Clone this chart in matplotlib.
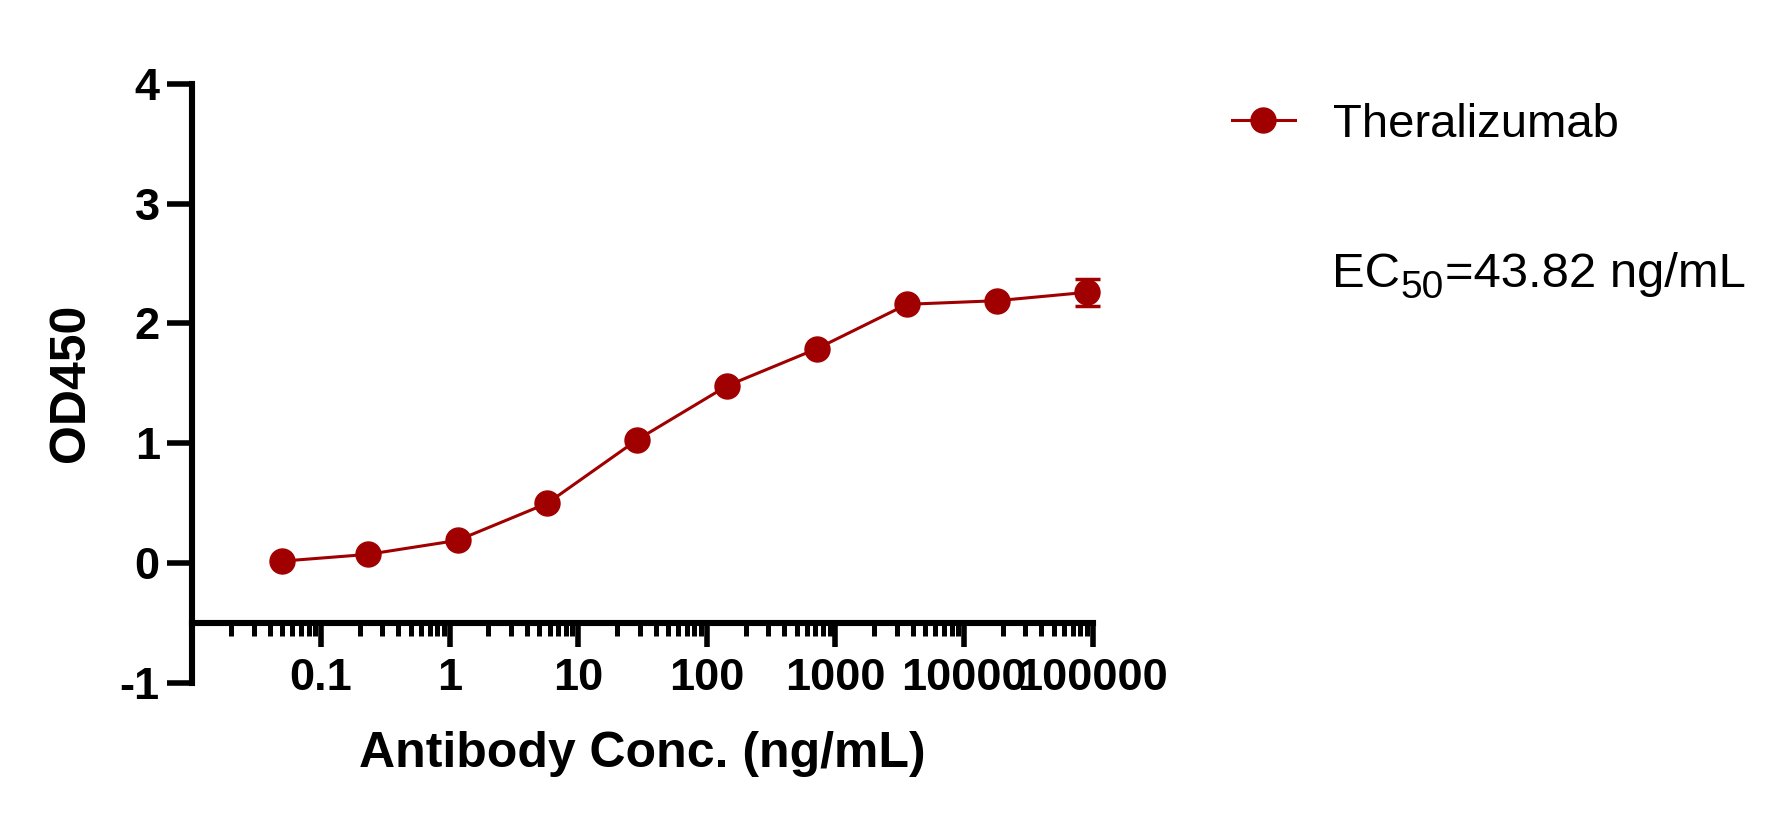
import matplotlib
matplotlib.use("Agg")
import matplotlib.pyplot as plt
import numpy as np
from matplotlib.ticker import FixedLocator, NullFormatter, FixedFormatter

plt.rcParams['font.family'] = ['Liberation Sans', 'DejaVu Sans']

# ---- data ----
conc = [0.05, 0.2304, 1.152, 5.76, 28.8, 144, 720, 3600, 18000, 90000]  # ng/mL
od450 = [0.017, 0.073, 0.19, 0.50, 1.03, 1.48, 1.79, 2.16, 2.19, 2.26]
od_err = [np.nan, np.nan, np.nan, np.nan, np.nan, np.nan, np.nan, np.nan, np.nan, 0.115]
series_name = "Theralizumab"
ec50_parts = ["EC", "50", "=43.82 ng/mL"]
x_major = [0.1, 1, 10, 100, 1000, 10000, 100000]
x_major_labels = ["0.1", "1", "10", "100", "1000", "10000", "100000"]
y_ticks = [-1, 0, 1, 2, 3, 4]

color = '#A00000'
W, H = 1788, 822
fig = plt.figure(figsize=(W / 100, H / 100), dpi=100)
ax = fig.add_axes([192.4 / W, 1 - 683 / H, 900.2 / W, 599.2 / H])

ax.plot(conc, od450, color=color, lw=2.2, marker='o', ms=18, mec=color, mfc=color,
        label=series_name, zorder=3, clip_on=False)
ax.errorbar(conc, od450, yerr=od_err, fmt='none', ecolor=color, elinewidth=2.2,
            capsize=9, capthick=2.5, zorder=2, clip_on=False)

ax.set_xscale('log')
ax.set_xlim(0.01, 100000)
ax.set_ylim(-1, 4)

for s in ['top', 'right']:
    ax.spines[s].set_visible(False)
ax.spines['left'].set_linewidth(4.4)
ax.spines['bottom'].set_linewidth(4.4)
ax.spines['bottom'].set_position(('data', -0.5))

ax.xaxis.set_major_locator(FixedLocator(x_major))
ax.xaxis.set_major_formatter(FixedFormatter(x_major_labels))
minors = [m * 10.0 ** e for e in range(-2, 5) for m in range(2, 10)]
ax.xaxis.set_minor_locator(FixedLocator(minors))
ax.xaxis.set_minor_formatter(NullFormatter())
ax.set_yticks(y_ticks)
ax.set_yticklabels([str(v) for v in y_ticks])

ax.tick_params(axis='x', which='major', length=17.5, width=4.0, pad=8,
               labelsize=32.5)
ax.tick_params(axis='x', which='minor', length=9.6, width=3.6)
ax.tick_params(axis='y', which='major', length=18, width=4.0, pad=5.5,
               labelsize=32.5)
for lab in ax.get_xticklabels() + ax.get_yticklabels():
    lab.set_fontweight('bold')

fig.text(71.5 / W, 1 - 383 / H, "OD450", rotation=90, ha='center', va='center',
         fontsize=36, fontweight='bold')
fig.text(642.5 / W, 1 - 767 / H, "Antibody Conc. (ng/mL)", ha='center',
         va='baseline', fontsize=36, fontweight='bold')

ax.legend(loc='center left', bbox_to_anchor=(1232 / W, 1 - 125 / H),
          bbox_transform=fig.transFigure, frameon=False, fontsize=34,
          handlelength=1.33, handletextpad=0.8, borderpad=0, borderaxespad=0)

# EC50 annotation with a larger-than-mathtext subscript
renderer = fig.canvas.get_renderer()
x0, base = 1331.5, H - 286.7
t1 = fig.text(x0 / W, base / H, ec50_parts[0], ha='left', va='baseline', fontsize=35.3)
x1 = t1.get_window_extent(renderer).x1
t2 = fig.text((x1 + 1) / W, (base - 11.7) / H, ec50_parts[1], ha='left', va='baseline',
              fontsize=28)
x2 = t2.get_window_extent(renderer).x1
fig.text((x2 + 1) / W, base / H, ec50_parts[2], ha='left', va='baseline', fontsize=35.3)

fig.savefig("out.png", dpi=100)
